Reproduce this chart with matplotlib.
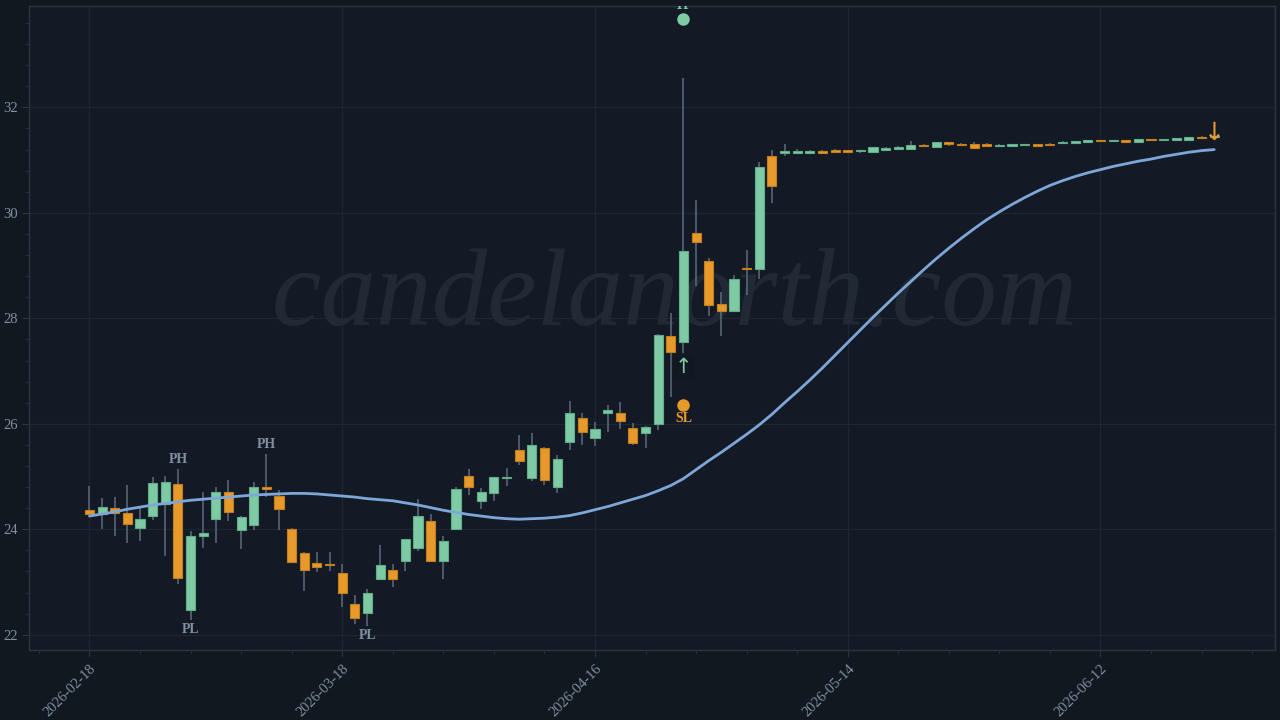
import matplotlib
matplotlib.use("Agg")
import matplotlib.pyplot as plt
from matplotlib.ticker import FixedLocator, MultipleLocator

# ---------------- data ----------------
opens = [24.36, 24.29, 24.40, 24.30, 24.03, 24.25, 24.48, 24.85, 22.47, 23.87,
         24.20, 24.70, 23.99, 24.09, 24.80, 24.63, 24.00, 23.55, 23.36, 23.34,
         23.17, 22.58, 22.41, 23.05, 23.22, 23.40, 23.64, 24.16, 23.39, 24.00,
         25.01, 24.53, 24.68, 24.97, 25.51, 24.97, 25.54, 24.80, 25.65, 26.11,
         25.73, 26.20, 26.21, 25.92, 25.82, 25.99, 27.66, 27.55, 29.61, 29.08,
         28.27, 28.14, 28.96, 28.94, 31.07, 31.13, 31.13, 31.14, 31.18, 31.19,
         31.18, 31.17, 31.16, 31.20, 31.21, 31.22, 31.29, 31.25, 31.34, 31.31,
         31.30, 31.30, 31.26, 31.27, 31.28, 31.30, 31.30, 31.32, 31.33, 31.34,
         31.38, 31.36, 31.38, 31.35, 31.40, 31.38, 31.39, 31.39, 31.44, 31.43]
highs = [24.82, 24.59, 24.61, 24.84, 24.41, 24.99, 25.01, 25.15, 23.97, 24.71,
         24.80, 24.94, 24.26, 24.89, 25.43, 24.75, 24.02, 23.56, 23.56, 23.57,
         23.34, 22.75, 22.86, 23.70, 23.34, 23.82, 24.58, 24.29, 23.87, 24.81,
         25.14, 24.78, 25.00, 25.16, 25.79, 25.82, 25.56, 25.40, 26.44, 26.20,
         26.03, 26.36, 26.42, 26.02, 25.95, 27.71, 28.10, 32.56, 30.25, 29.15,
         28.49, 28.83, 29.30, 30.97, 31.20, 31.30, 31.21, 31.20, 31.19, 31.21,
         31.19, 31.20, 31.25, 31.24, 31.26, 31.37, 31.30, 31.35, 31.35, 31.32,
         31.35, 31.32, 31.31, 31.31, 31.31, 31.31, 31.32, 31.36, 31.37, 31.39,
         31.39, 31.39, 31.39, 31.41, 31.41, 31.40, 31.42, 31.44, 31.45, 31.46]
lows = [24.27, 24.01, 23.87, 23.73, 23.78, 24.18, 23.50, 22.96, 22.27, 23.65,
        23.73, 24.16, 23.63, 23.98, 24.62, 23.99, 23.36, 22.83, 23.18, 23.21,
        22.53, 22.20, 22.17, 23.04, 22.91, 23.21, 23.59, 23.38, 23.05, 23.99,
        24.65, 24.38, 24.54, 24.82, 25.22, 24.92, 24.83, 24.68, 25.51, 25.60,
        25.58, 25.85, 25.90, 25.60, 25.55, 25.89, 26.50, 27.35, 28.61, 28.05,
        27.66, 28.13, 28.45, 28.75, 30.18, 31.07, 31.12, 31.13, 31.13, 31.14,
        31.15, 31.14, 31.15, 31.19, 31.20, 31.21, 31.25, 31.24, 31.26, 31.27,
        31.22, 31.26, 31.25, 31.26, 31.27, 31.26, 31.27, 31.31, 31.32, 31.33,
        31.35, 31.35, 31.34, 31.34, 31.37, 31.37, 31.38, 31.38, 31.40, 31.42]
closes = [24.28, 24.42, 24.30, 24.10, 24.19, 24.87, 24.89, 23.07, 23.88, 23.92,
          24.70, 24.32, 24.24, 24.80, 24.76, 24.39, 23.38, 23.22, 23.29, 23.32,
          22.80, 22.32, 22.79, 23.32, 23.06, 23.81, 24.25, 23.39, 23.78, 24.76,
          24.81, 24.70, 24.99, 25.00, 25.30, 25.60, 24.94, 25.34, 26.20, 25.84,
          25.90, 26.27, 26.06, 25.63, 25.94, 27.68, 27.36, 29.28, 29.44, 28.26,
          28.13, 28.75, 28.93, 30.87, 30.51, 31.18, 31.17, 31.17, 31.14, 31.15,
          31.16, 31.19, 31.24, 31.22, 31.25, 31.29, 31.26, 31.34, 31.31, 31.28,
          31.23, 31.27, 31.29, 31.30, 31.30, 31.27, 31.28, 31.35, 31.35, 31.38,
          31.36, 31.38, 31.35, 31.40, 31.38, 31.39, 31.41, 31.43, 31.42, 31.45]
sma = [24.25, 24.29, 24.33, 24.38, 24.42, 24.46, 24.49, 24.52, 24.55, 24.57,
       24.59, 24.61, 24.63, 24.65, 24.66, 24.67, 24.68, 24.68, 24.67, 24.65,
       24.63, 24.61, 24.58, 24.56, 24.54, 24.50, 24.46, 24.41, 24.36, 24.32,
       24.28, 24.25, 24.22, 24.20, 24.19, 24.20, 24.21, 24.23, 24.26, 24.31,
       24.37, 24.43, 24.50, 24.57, 24.64, 24.73, 24.83, 24.96, 25.13, 25.30,
       25.46, 25.63, 25.80, 25.98, 26.18, 26.40, 26.61, 26.83, 27.06, 27.30,
       27.54, 27.78, 28.02, 28.25, 28.48, 28.70, 28.92, 29.13, 29.33, 29.52,
       29.70, 29.87, 30.02, 30.16, 30.29, 30.41, 30.52, 30.61, 30.69, 30.76,
       30.82, 30.88, 30.93, 30.98, 31.02, 31.07, 31.11, 31.15, 31.18, 31.20]

tick_pos = [0, 20, 40, 60, 80]
tick_labels = ["2026-02-18", "2026-03-18", "2026-04-16", "2026-05-14", "2026-06-12"]

ph_idx = [7, 14]
pl_idx = [8, 22]
signal_idx = 47
sl_level = 26.36
tp_level = 33.67
exit_idx = 89
exit_level = 31.52

# ---------------- style ----------------
FIG_BG = "#111820"
AX_BG = "#131a25"
GRID = "#1c2830"
SPINE = "#2a3543"
TXT = "#8190a3"
UP = "#7dcaa4"
UP_EDGE = "#5fae88"
DOWN = "#e79a2b"
DOWN_EDGE = "#c47f1c"
WICK = "#566577"
SMA_C = "#7ea6d8"
SERIF = ["Liberation Serif", "DejaVu Serif"]

fig = plt.figure(figsize=(12.8, 7.2), dpi=100, facecolor=FIG_BG)
ax = fig.add_axes([0.023, 0.0972, 0.973, 0.895])
ax.set_facecolor(AX_BG)

n = len(opens)
xs = list(range(n))
width = 0.72

# wicks
ax.vlines(xs, lows, highs, color=WICK, linewidth=1.2, zorder=2)
# bodies
for i in xs:
    o, c = opens[i], closes[i]
    up = c >= o
    bottom = min(o, c)
    h = max(abs(c - o), 0.025)
    ax.bar(i, h, width=width, bottom=bottom,
           color=UP if up else DOWN,
           edgecolor=UP_EDGE if up else DOWN_EDGE,
           linewidth=0.8, zorder=3)

# smoothed line
ax.plot(xs, sma, color=SMA_C, linewidth=2.0, zorder=4, solid_capstyle="round")

# watermark
ax.text(0.518, 0.504, "candelanorth.com", transform=ax.transAxes,
        fontsize=80, family=SERIF, style="italic", color="#212a34",
        ha="center", va="baseline", zorder=1)

# pivot labels
for i in ph_idx:
    ax.annotate("PH", (i, highs[i]), xytext=(0, 2), textcoords="offset points",
                ha="center", va="bottom", fontsize=10, fontweight="bold",
                family=SERIF, color=TXT, zorder=5)
for i in pl_idx:
    ax.annotate("PL", (i, lows[i]), xytext=(0, -2), textcoords="offset points",
                ha="center", va="top", fontsize=10, fontweight="bold",
                family=SERIF, color=TXT, zorder=5)

# entry signal arrow
ax.annotate("↑", (signal_idx, lows[signal_idx]), xytext=(0, -3),
            textcoords="offset points", ha="center", va="top",
            fontsize=15, color=UP, family=["DejaVu Sans"], zorder=5,
            bbox=dict(boxstyle="square,pad=0.1", facecolor="#111820",
                      edgecolor="none", alpha=0.7))
# SL / TP markers
ax.plot([signal_idx], [sl_level], "o", color=DOWN, markersize=8, zorder=5)
ax.annotate("SL", (signal_idx, sl_level), xytext=(0, -5), textcoords="offset points",
            ha="center", va="top", fontsize=10, fontweight="bold",
            family=SERIF, color=DOWN, zorder=5)
ax.plot([signal_idx], [tp_level], "o", color=UP, markersize=8, zorder=5)
ax.annotate("TP", (signal_idx, tp_level), xytext=(0, 5), textcoords="offset points",
            ha="center", va="bottom", fontsize=10, fontweight="bold",
            family=SERIF, color=UP, zorder=5, annotation_clip=False, clip_on=True)

# exit arrow
ax.text(exit_idx, exit_level, "↓", ha="center", va="center", fontsize=18,
        color=DOWN, family=["DejaVu Sans"], zorder=6)

# axes
ax.set_xlim(-4.75, 93.8)
ax.set_ylim(21.71, 33.93)
ax.xaxis.set_major_locator(FixedLocator(tick_pos))
ax.set_xticklabels(tick_labels, rotation=45, ha="right", rotation_mode="anchor")
ax.xaxis.set_minor_locator(MultipleLocator(4))
ax.yaxis.set_major_locator(MultipleLocator(2))
ax.yaxis.set_minor_locator(MultipleLocator(0.4))

ax.grid(True, which="major", color=GRID, linewidth=0.9, zorder=0)
ax.set_axisbelow(True)
for sp in ax.spines.values():
    sp.set_color(SPINE)
    sp.set_linewidth(1.0)
ax.tick_params(which="major", colors=SPINE, labelcolor=TXT, labelsize=10.5, length=5)
ax.tick_params(which="minor", colors=SPINE, length=3)
for lab in ax.get_xticklabels() + ax.get_yticklabels():
    lab.set_family(SERIF)

fig.savefig("out.png", dpi=100, facecolor=FIG_BG)
